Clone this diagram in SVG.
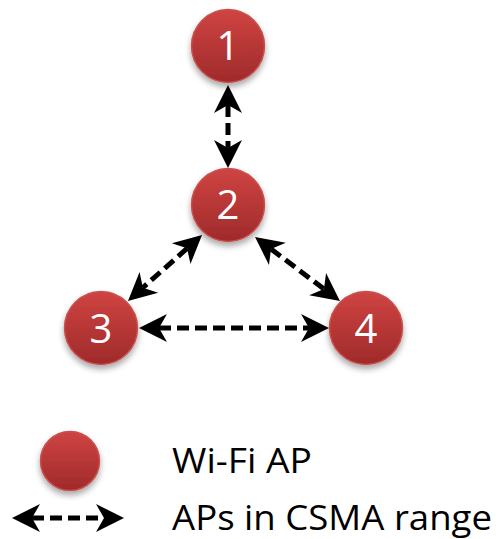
<svg xmlns="http://www.w3.org/2000/svg" width="499" height="539" viewBox="0 0 499 539">
<style>
.node circle{fill:url(#g);stroke:#c9504e;stroke-width:1.5;filter:url(#sh)}
.node text{font-family:"Open Sans","Noto Sans",sans-serif;font-size:40px;fill:#fff;text-anchor:middle}
.conn line{stroke:#000;stroke-width:5;stroke-dasharray:12 6;fill:none;marker-start:url(#ah);marker-end:url(#ah)}
.lbl{font-family:"Open Sans","Noto Sans",sans-serif;font-size:35px;fill:#000}
</style>
<defs>
<linearGradient id="g" x1="0" y1="0" x2="0" y2="1">
<stop offset="0" stop-color="#cf4442"/>
<stop offset="1" stop-color="#9f2a2a"/>
</linearGradient>
<filter id="sh" x="-30%" y="-30%" width="160%" height="170%">
<feDropShadow dx="0" dy="4" stdDeviation="3" flood-color="#000" flood-opacity="0.35"/>
</filter>
<marker id="ah" markerUnits="strokeWidth" viewBox="-1 -4 8 8" refX="1.6" refY="0" markerWidth="8" markerHeight="8" orient="auto-start-reverse" overflow="visible">
<path d="M0,-2.8 L5.6,0 L0,2.8 L1.6,0 Z" fill="#000" stroke="none"/>
</marker>
</defs>
<g class="conn" id="connectors">
<line x1="228" y1="105" x2="228" y2="148"/>
<line x1="187.1" y1="248.3" x2="142.9" y2="287.7"/>
<line x1="271" y1="249" x2="324" y2="289"/>
<line x1="159" y1="328" x2="309" y2="328"/>
</g>
<g class="node" id="n1"><circle cx="228" cy="46" r="36.5"/><text x="228" y="60">1</text></g>
<g class="node" id="n2"><circle cx="228" cy="205" r="36.5"/><text x="228" y="219">2</text></g>
<g class="node" id="n3"><circle cx="101" cy="328" r="36.5"/><text x="101" y="343">3</text></g>
<g class="node" id="n4"><circle cx="366" cy="328" r="36.5"/><text x="366" y="343">4</text></g>
<g id="legend">
<g class="node" id="legend-node"><circle cx="70" cy="461" r="29.5"/></g>
<g class="conn" id="legend-arrow"><line x1="32" y1="518" x2="104" y2="518"/></g>
<text class="lbl" x="172" y="473" textLength="140" lengthAdjust="spacingAndGlyphs">Wi-Fi AP</text>
<text class="lbl" x="172" y="530" textLength="320" lengthAdjust="spacingAndGlyphs">APs in CSMA range</text>
</g>
</svg>
